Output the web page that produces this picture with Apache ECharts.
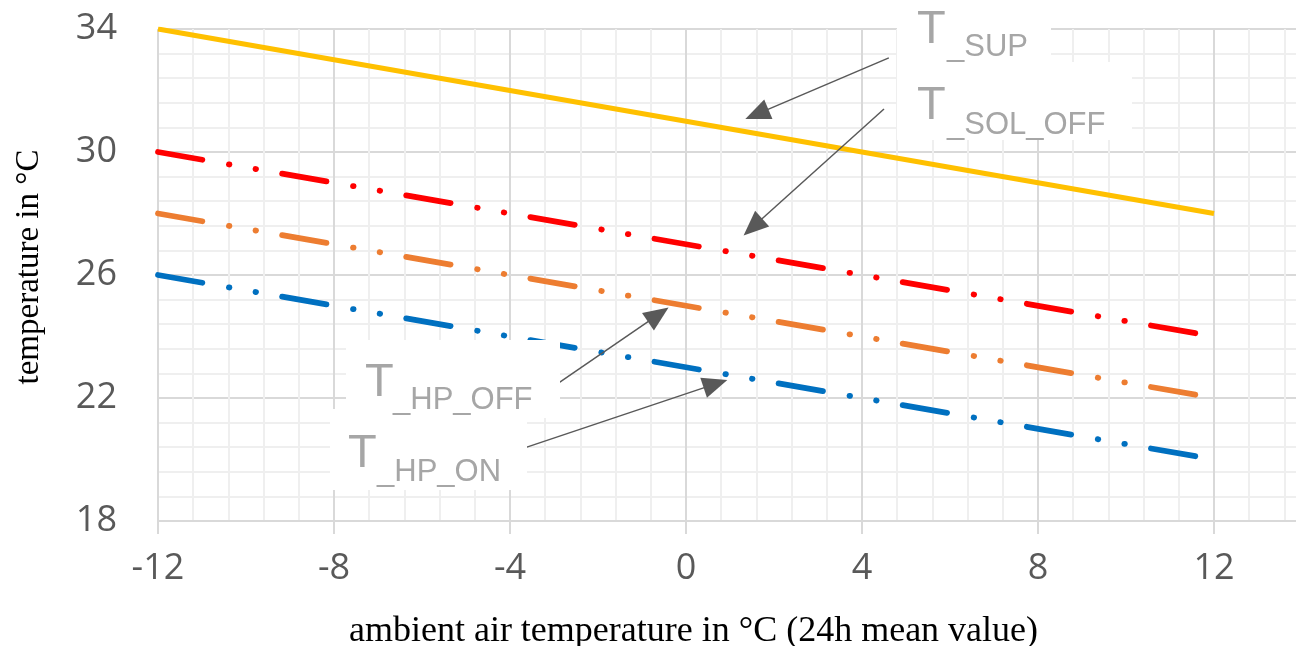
<!DOCTYPE html>
<html>
<head>
<meta charset="utf-8">
<script src="https://cdn.jsdelivr.net/npm/echarts@6/dist/echarts.min.js"></script>
<style>
  html, body { margin: 0; padding: 0; background: #fff; }
  #chart { width: 1296px; height: 646px; }
</style>
</head>
<body>
<div id="chart"></div>
<script>
// ambient air temperature (x) and setpoint lines
const ambient = [-12, 12];
const tSup = [34, 28];
const tSolOff = [30, 24];
const tHpOff = [28, 22];
const tHpOn = [26, 20];

// annotation arrows: [fromX, fromY, toX, toY] in data units
const arrowSup = [4.61, 33.06, 1.61, 31.23];
const arrowSolOff = [4.5, 31.4, 1.52, 27.56];
const arrowHpOff = [-3.24, 22.15, -0.63, 24.71];
const arrowHpOn = [-3.77, 20.33, 0.67, 22.46];

const chart = echarts.init(document.getElementById("chart"));

const pairs = (ys) => ambient.map((x, i) => [x, ys[i]]);
const dashDotDot = [45, 27, 0.5, 26.5, 0.5, 26.5];

const arrow = (a) => [
  { coord: [a[0], a[1]], symbol: "none" },
  { coord: [a[2], a[3]], symbol: "triangle", symbolSize: [21, 25] },
];

const labelFont = {
  color: "#595959",
  fontSize: 36,
  fontFamily: "Open Sans",
};

const annText = "#a6a6a6";
function note(x, y, w, h, tx, ty, sub, sx, sy) {
  return [
    { type: "rect", z: 100, shape: { x: x, y: y, width: w, height: h }, style: { fill: "#fff" } },
    {
      type: "text", z: 101,
      style: { text: "T", x: tx, y: ty + 2, fill: annText, font: "47px 'Liberation Sans'", verticalAlign: "middle" },
    },
    {
      type: "text", z: 101,
      style: { text: sub, x: sx, y: sy + 3, fill: annText, font: "31px 'Liberation Sans'", verticalAlign: "middle" },
    },
  ];
}

let option = {
  animation: false,
  grid: {
    left: 158,
    top: 29,
    width: 1232,
    height: 492,
    outerBoundsMode: "none",
  },
  xAxis: {
    type: "value",
    min: -12,
    max: 16,
    interval: 4,
    name: "ambient air temperature in °C (24h mean value)",
    nameLocation: "middle",
    nameGap: 93,
    nameTextStyle: {
      color: "#000",
      fontSize: 36,
      fontFamily: "Liberation Serif",
      padding: [0, 161, 0, 0],
    },
    axisLine: { show: true, lineStyle: { color: "#d9d9d9", width: 2 } },
    axisTick: { show: true, length: 13, lineStyle: { color: "#d9d9d9", width: 2 } },
    axisLabel: Object.assign({ margin: 30 }, labelFont),
    splitLine: { show: true, lineStyle: { color: "#d9d9d9", width: 2 } },
    minorTick: { show: false, splitNumber: 5 },
    minorSplitLine: { show: true, lineStyle: { color: "#efefef", width: 2 } },
  },
  yAxis: {
    type: "value",
    min: 18,
    max: 34,
    interval: 4,
    name: "temperature in °C",
    nameLocation: "middle",
    nameGap: 112,
    nameTextStyle: {
      color: "#000",
      fontSize: 33,
      fontFamily: "Liberation Serif",
      padding: [0, 0, 0, 16],
    },
    axisLine: { show: true, lineStyle: { color: "#d9d9d9", width: 2 } },
    axisTick: { show: false },
    axisLabel: Object.assign({ margin: 41 }, labelFont),
    splitLine: { show: true, lineStyle: { color: "#d9d9d9", width: 2 } },
    minorTick: { show: false, splitNumber: 5 },
    minorSplitLine: { show: true, lineStyle: { color: "#efefef", width: 2 } },
  },
  series: [
    {
      name: "T_SUP",
      type: "line",
      data: pairs(tSup),
      showSymbol: false,
      lineStyle: { color: "#ffc000", width: 5 },
      markLine: {
        silent: true,
        animation: false,
        label: { show: false },
        lineStyle: { color: "#595959", width: 1.5, type: "solid" },
        itemStyle: { color: "#595959" },
        emphasis: { disabled: true },
        data: [arrow(arrowSup), arrow(arrowSolOff), arrow(arrowHpOff), arrow(arrowHpOn)],
      },
    },
    {
      name: "T_SOL_OFF",
      type: "line",
      data: pairs(tSolOff),
      showSymbol: false,
      lineStyle: { color: "#ff0000", width: 5.8, type: dashDotDot, cap: "round" },
    },
    {
      name: "T_HP_OFF",
      type: "line",
      data: pairs(tHpOff),
      showSymbol: false,
      lineStyle: { color: "#ed7d31", width: 5.8, type: dashDotDot, cap: "round" },
    },
    {
      name: "T_HP_ON",
      type: "line",
      data: pairs(tHpOn),
      showSymbol: false,
      lineStyle: { color: "#0070c0", width: 5.8, type: dashDotDot, cap: "round" },
    },
  ],
  graphic: [].concat(
    note(897, 0, 154, 62, 917, 27.7, "_SUP", 947, 44.3),
    note(897, 62, 235, 78, 917, 103.7, "_SOL_OFF", 947, 122.3),
    note(346, 340, 214, 78, 365, 380.7, "_HP_OFF", 393, 397.3),
    note(330, 409, 197, 81, 348, 451.7, "_HP_ON", 377, 469.3)
  ),
};

chart.setOption(option);
</script>
</body>
</html>
